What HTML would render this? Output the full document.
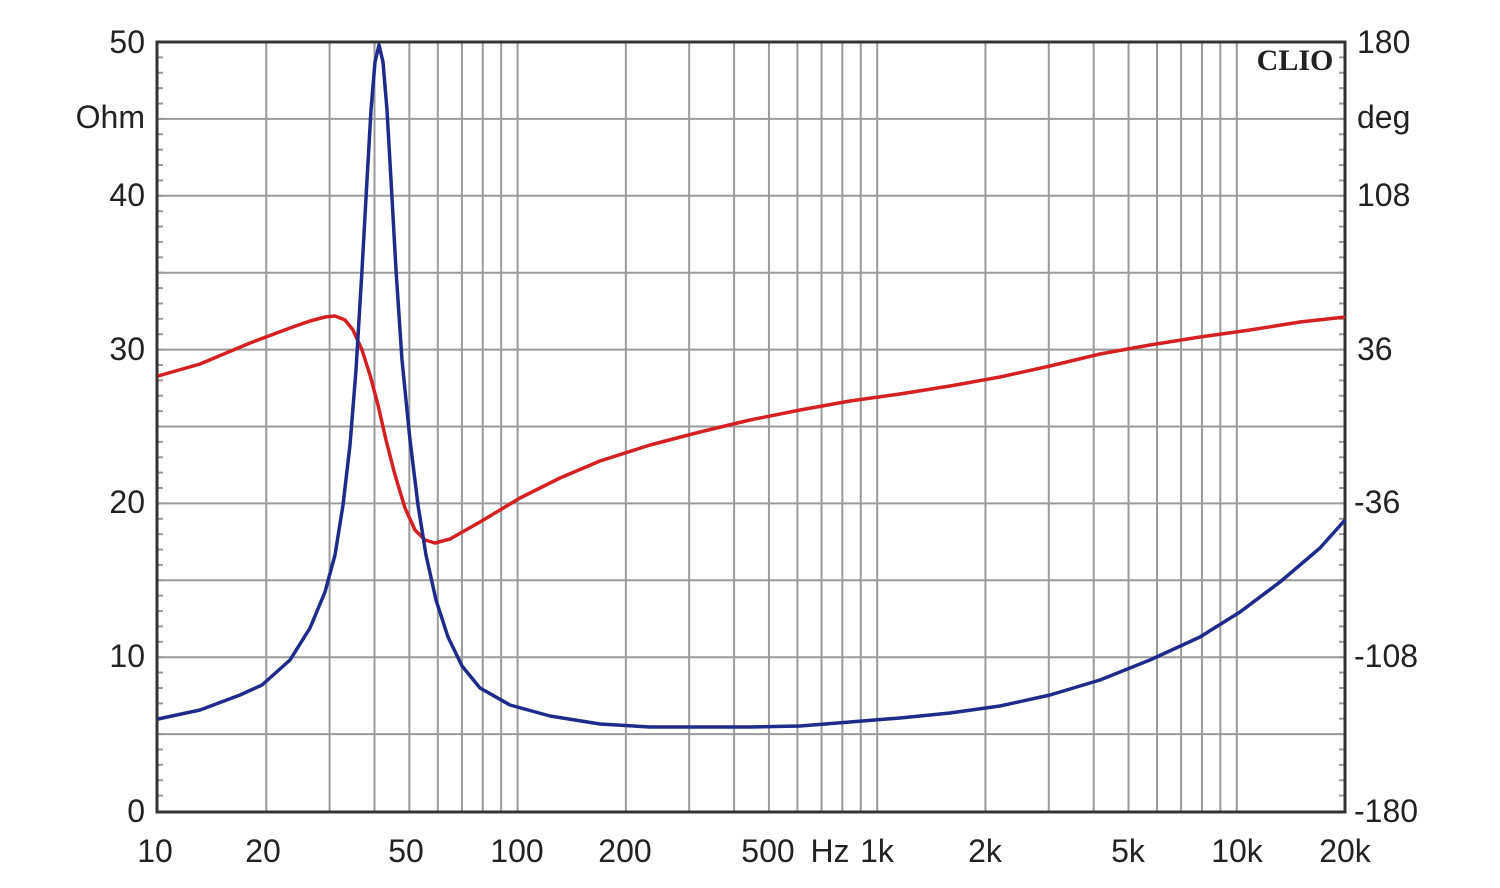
<!DOCTYPE html><html><head><style>body{margin:0;background:#fff}svg{display:block}text{font-family:"Liberation Sans",sans-serif;font-size:32px;fill:#222}</style></head><body>
<svg width="1500" height="888" xmlns="http://www.w3.org/2000/svg">
<g id="g" stroke="#9a9a9a" stroke-width="2"></g>
<rect x="157" y="42" width="1188" height="770" fill="none" stroke="#333" stroke-width="3"/>
<polyline fill="none" stroke="#d42020" stroke-width="3.5" stroke-linejoin="round" points="158,376 200,364 250,343 290,328 310,321 325,317 335,316 345,320 353,330 362,350 370,375 378,405 386,440 395,475 405,508 415,530 425,540 435,543 450,539 480,522 520,498 560,478 600,461 650,445 700,432 750,420 800,410 850,401 900,394 950,386 1000,377 1050,366 1100,354 1150,345 1200,337 1250,330 1300,322 1345,317"/>
<polyline fill="none" stroke="#1f2a8a" stroke-width="3.5" stroke-linejoin="round" points="158,719 200,710 240,695 262,685 290,660 310,628 325,592 335,555 343,505 350,445 356,370 362,270 367,180 371,110 375,62 379,45 383,62 387,110 391,180 396,270 402,360 410,440 418,505 426,555 436,600 448,637 462,666 480,688 510,705 550,716 600,724 650,727 700,727 750,727 800,726 850,722 900,718 950,713 1000,706 1050,695 1100,680 1150,660 1200,637 1240,612 1280,582 1320,548 1345,520"/>
<text x="1295" y="70" text-anchor="middle" style="font-family:'Liberation Serif',serif;font-weight:bold;font-size:30px" fill="#111">CLIO</text>
<g text-anchor="end">
<text x="145" y="53">50</text><text x="145" y="128">Ohm</text><text x="145" y="206">40</text><text x="145" y="360">30</text><text x="145" y="513">20</text><text x="145" y="667">10</text><text x="145" y="822">0</text></g>
<g>
<text x="1357" y="53">180</text><text x="1357" y="128">deg</text><text x="1357" y="206">108</text><text x="1357" y="360">36</text><text x="1354" y="513">-36</text><text x="1354" y="667">-108</text><text x="1354" y="822">-180</text></g>
<g text-anchor="middle">
<text x="155" y="862">10</text><text x="263" y="862">20</text><text x="406" y="862">50</text><text x="517" y="862">100</text><text x="625" y="862">200</text><text x="768" y="862">500</text><text x="830" y="862">Hz</text><text x="877" y="862">1k</text><text x="985" y="862">2k</text><text x="1128" y="862">5k</text><text x="1237" y="862">10k</text><text x="1345" y="862">20k</text></g>
</svg>
<script>
var g=document.getElementById('g'),s='';
for(var d=10;d<=10000;d*=10)for(var m=1;m<10;m++){var f=d*m;if(f>20000||f==10)continue;var x=158+Math.log10(f/10)*359.6;s+='<line x1="'+x+'" y1="42" x2="'+x+'" y2="811"/>';}
for(var k=1;k<10;k++){var y=811-76.9*k;s+='<line x1="157" y1="'+y+'" x2="1345" y2="'+y+'"/>';}
for(var k=1;k<50;k++){var y=811-15.38*k;s+='<line x1="157" y1="'+y+'" x2="163" y2="'+y+'"/><line x1="1339" y1="'+y+'" x2="1345" y2="'+y+'"/>';}
g.innerHTML=s;
</script>
</body></html>
